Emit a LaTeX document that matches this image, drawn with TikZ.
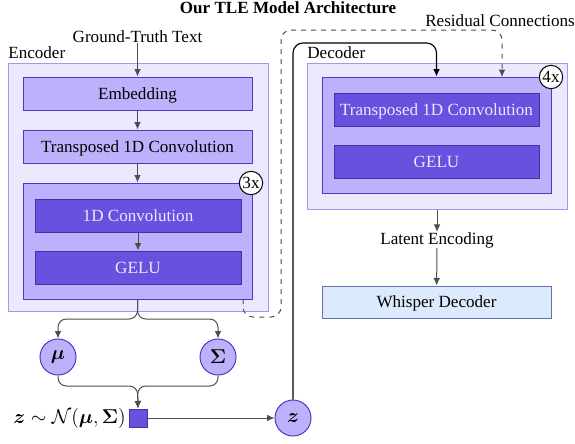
\documentclass[tikz,border=0pt]{standalone}
\usepackage{bm}
\usepackage{fontspec}
\setmainfont{Liberation Serif}
\usetikzlibrary{arrows.meta,calc}
\definecolor{outerfill}{HTML}{ECE8FE}
\definecolor{outerdraw}{HTML}{A995EE}
\definecolor{midfill}{HTML}{BEB0FA}
\definecolor{middraw}{HTML}{5436C4}
\definecolor{darkfill}{HTML}{6A50DE}
\definecolor{darkdraw}{HTML}{4630A6}
\definecolor{darktext}{HTML}{ECE8FF}
\definecolor{wfill}{HTML}{DBEAFD}
\definecolor{wdraw}{HTML}{6670B0}
\definecolor{linegray}{HTML}{4D4D4D}
\def\U{0.6pt}
\tikzset{
  boxtext/.style={text height=8.8pt, text depth=2pt},
  outerbox/.style={draw=outerdraw, fill=outerfill, line width=0.6pt, inner sep=0pt},
  midbox/.style={draw=middraw, fill=midfill, line width=0.6pt, inner sep=0pt, boxtext},
  darkbox/.style={draw=darkdraw, fill=darkfill, line width=0.6pt, inner sep=0pt, text=darktext, boxtext},
  wbox/.style={draw=wdraw, fill=wfill, line width=0.6pt, inner sep=0pt, boxtext},
  rep/.style={circle, draw=black, fill=white, line width=0.6pt, minimum size=14pt, inner sep=0pt},
  var/.style={circle, draw=middraw, fill=midfill, line width=0.6pt, minimum size=36*\U, inner sep=0pt, font=\fontsize{12}{14}\selectfont},
  arr/.style={draw=linegray, line width=0.6pt, -{Latex[length=4.5pt,width=4pt]}},
  lbl/.style={inner sep=0pt},
}
\begin{document}
\begin{tikzpicture}[x=0.6pt,y=-0.6pt, font=\fontsize{10.25}{12}\selectfont]
\useasboundingbox (0,0) rectangle (575,443);
% title
\node[lbl, anchor=base] (title) at (288,13) {\textbf{Our TLE Model Architecture}};
% encoder
\node[lbl, anchor=base] (gt) at (137.5,42) {Ground-Truth Text};
\node[lbl, anchor=base west] (enclbl) at (8,58) {Encoder};
\node[outerbox, minimum width=260*\U, minimum height=248*\U] (encout) at (138,187) {};
\node[midbox, minimum width=229*\U, minimum height=33*\U] (emb) at (137.5,93.5) {Embedding};
\node[midbox, minimum width=229*\U, minimum height=33*\U] (tconv) at (137.5,146.5) {Transposed 1D Convolution};
\node[midbox, minimum width=229*\U, minimum height=116*\U] (encin) at (137.5,241) {};
\node[darkbox, minimum width=206*\U, minimum height=33*\U] (conv) at (138,215.5) {1D Convolution};
\node[darkbox, minimum width=206*\U, minimum height=33*\U] (gelu) at (138,267.5) {GELU};
\node[rep] (rep3) at (251,183) {3x};
% decoder
\node[lbl, anchor=base west] (declbl) at (307,58) {Decoder};
\node[lbl, anchor=base west] (reslbl) at (425,26) {Residual Connections};
\node[outerbox, minimum width=260*\U, minimum height=146*\U] (decout) at (437,136) {};
\node[midbox, minimum width=229*\U, minimum height=116*\U] (decin) at (436.5,135) {};
\node[darkbox, minimum width=205*\U, minimum height=33*\U] (tconv2) at (436.5,109.5) {Transposed 1D Convolution};
\node[darkbox, minimum width=205*\U, minimum height=33*\U] (gelu2) at (436.5,161.5) {GELU};
\node[rep] (rep4) at (551,77) {4x};
\node[lbl] (latent) at (437,240) {Latent Encoding};
\node[wbox, minimum width=229*\U, minimum height=32*\U] (whisper) at (436.5,302) {Whisper Decoder};
% latent variables
\node[var] (mu) at (58,357) {$\bm{\mu}$};
\node[var] (sig) at (218,357) {$\bm{\Sigma}$};
\node[draw=darkdraw, fill=darkfill, line width=0.6pt, minimum size=18*\U, inner sep=0pt] (sq) at (138,418) {};
\node[lbl, anchor=east, font=\fontsize{12}{14}\selectfont] (zlbl) at (126,418) {$\bm{z}\sim\mathcal{N}(\bm{\mu},\bm{\Sigma})$};
\node[var] (z) at (293,418) {$\bm{z}$};
% coordinates
\coordinate (split) at (137.5,319);
\coordinate (merge) at (137.5,386);
\coordinate (resstart) at (243,299);
\coordinate (resa) at (243,317);
\coordinate (resb) at (281,317);
\coordinate (resc) at (281,30);
\coordinate (resd) at (502,30);
\coordinate (rese) at (502,77);
\coordinate (za) at (293,43);
\coordinate (zb) at (436.5,43);
% connectors
\draw[arr] (gt) -- (emb);
\draw[arr] (emb) -- (tconv);
\draw[arr] (tconv) -- (encin);
\draw[arr] (conv) -- (gelu);
\draw[arr, rounded corners=5pt] (encin.south) -- (split) -| (mu.north);
\draw[arr, rounded corners=5pt] (encin.south) -- (split) -| (sig.north);
\draw[arr, rounded corners=5pt] (mu.south) |- (merge) -- (sq.north);
\draw[arr, rounded corners=5pt] (sig.south) |- (merge) -- (sq.north);
\draw[arr] (sq.east) -- (z.west);
\draw[draw=black, line width=0.7pt, -{Latex[length=4.5pt,width=4pt]}, rounded corners=6pt] (z.north) -- (za) -- (zb) -- (decin.north);
\draw[draw=linegray, line width=0.6pt, dashed, -{Latex[length=4.5pt,width=4pt]}, rounded corners=6pt] (resstart) -- (resa) -- (resb) -- (resc) -- (resd) -- (rese);
\draw[arr] (decout.south) -- (latent);
\draw[arr] (latent) -- (whisper);
\end{tikzpicture}
\end{document}
